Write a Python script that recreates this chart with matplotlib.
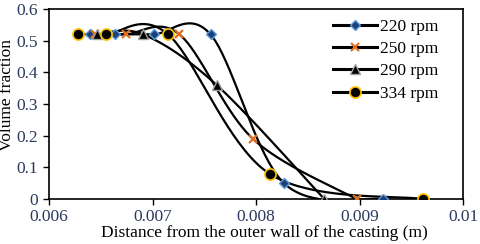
import numpy as np
import matplotlib.pyplot as plt

# data
x_220 = [0.00640, 0.00664, 0.00701, 0.00756, 0.00827, 0.00923]
y_220 = [0.52, 0.52, 0.52, 0.52, 0.05, 0.0]
x_250 = [0.00644, 0.00674, 0.00726, 0.00797, 0.00897]
y_250 = [0.52, 0.52, 0.52, 0.19, 0.0]
x_290 = [0.00646, 0.00691, 0.00762, 0.00866]
y_290 = [0.52, 0.52, 0.36, 0.0]
x_334 = [0.00628, 0.00655, 0.00715, 0.00813, 0.00961]
y_334 = [0.52, 0.52, 0.52, 0.08, 0.0]

xlim = (0.006, 0.01)
ylim = (0, 0.6)

plt.rcParams['font.family'] = 'Liberation Serif'
tick_col = '#2b3a5e'


def smooth(xs, ys, n=40):
    # Excel-style smoothed line (Catmull-Rom as Bezier), done in axis-normalised space
    sx = (xlim[1] - xlim[0]) * 2.0
    sy = (ylim[1] - ylim[0])
    p = np.column_stack([np.array(xs) / sx, np.array(ys) / sy])
    p = np.vstack([p[0], p, p[-1]])
    out = []
    t = np.linspace(0, 1, n)[:, None]
    for i in range(1, len(p) - 2):
        p0, p1, p2, p3 = p[i - 1], p[i], p[i + 1], p[i + 2]
        c1 = p1 + (p2 - p0) / 6
        c2 = p2 - (p3 - p1) / 6
        seg = ((1 - t) ** 3) * p1 + 3 * ((1 - t) ** 2) * t * c1 + 3 * (1 - t) * t ** 2 * c2 + t ** 3 * p2
        out.append(seg)
    out = np.vstack(out)
    return out[:, 0] * sx, out[:, 1] * sy


fig = plt.figure(figsize=(4.8, 2.44), dpi=100)
ax = fig.add_axes([0.102, 0.184, 0.863, 0.779])

series = [
    (x_220, y_220, '220 rpm', dict(marker='D', ms=5, mfc='#1f3f7a', mec='#5b9bd5', mew=1)),
    (x_250, y_250, '250 rpm', dict(marker='x', ms=6, mec='#e07020', mew=1.6)),
    (x_290, y_290, '290 rpm', dict(marker='^', ms=7, mfc='black', mec='#a0a0a0', mew=1)),
    (x_334, y_334, '334 rpm', dict(marker='o', ms=8, mfc='black', mec='#ffc000', mew=1.2)),
]

for xs, ys, lab, mk in series:
    sxv, syv = smooth(xs, ys)
    ax.plot(sxv, syv, color='black', lw=1.6, zorder=2)
    ax.plot(xs, ys, ls='none', zorder=3, **mk)
    ax.plot([], [], color='black', lw=2.2, label=lab, **mk)

ax.set_xlim(*xlim)
ax.set_ylim(*ylim)
ax.set_xticks([0.006, 0.007, 0.008, 0.009, 0.01])
ax.set_xticklabels(['0.006', '0.007', '0.008', '0.009', '0.01'])
ax.set_yticks([0, 0.1, 0.2, 0.3, 0.4, 0.5, 0.6])
ax.set_yticklabels(['0', '0.1', '0.2', '0.3', '0.4', '0.5', '0.6'])
ax.tick_params(labelsize=12.5, labelcolor=tick_col, direction='out', length=4, width=1)
ax.tick_params(axis='x', pad=3)
ax.tick_params(axis='y', pad=4)
for s in ax.spines.values():
    s.set_linewidth(1.2)

ax.set_xlabel('Distance from the outer wall of the casting (m)', fontsize=12.5)
ax.xaxis.set_label_coords(0.52, -0.136)
ax.set_ylabel('Volume fraction', fontsize=12.5)
ax.yaxis.set_label_coords(-0.081, 0.547)

ax.legend(loc='upper left', frameon=False, fontsize=12.5, handlelength=2.5,
          labelspacing=0.36, borderpad=0, borderaxespad=0, handletextpad=0.2,
          bbox_to_anchor=(0.686, 0.95))

fig.savefig('out.png', dpi=100)
